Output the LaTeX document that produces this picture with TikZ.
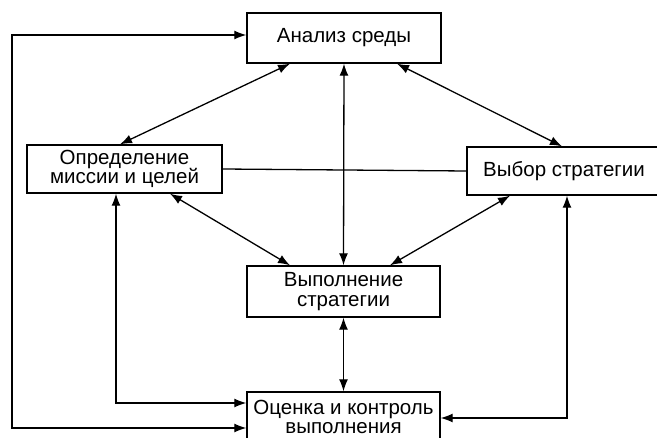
\documentclass[tikz,border=0pt]{standalone}
\usepackage{fontspec}
\setmainfont{Liberation Sans}
\usetikzlibrary{arrows.meta}
\begin{document}
\begin{tikzpicture}[x=1pt,y=-1pt,
  box/.style={draw,line width=1.4pt,inner sep=0pt,align=center,
    font=\fontsize{20.5}{19.5}\selectfont},
  conn/.style={line width=1.3pt,{Latex[length=12pt,width=9pt]}-{Latex[length=12pt,width=9pt]}},
  plain/.style={line width=1.3pt}]
\clip (0,0) rectangle (657,438);
\fill[white] (0,0) rectangle (657,438);
\node[box,minimum width=194pt,minimum height=50pt] (b1) at (344,38) {Анализ среды};
\node[box,minimum width=195pt,minimum height=48pt] (b2) at (124.5,169) {Определение\\миссии и целей};
\node[box,minimum width=194pt,minimum height=48pt] (b3) at (564,171) {Выбор стратегии};
\node[box,minimum width=193pt,minimum height=51pt] (b4) at (343.5,291.5) {Выполнение\\стратегии};
\node[box,minimum width=193pt,minimum height=50pt] (b5) at (343.5,417) {Оценка и контроль\\выполнения};
\coordinate (L) at (12,200);
\draw[conn] ([xshift=-54pt]b1.south) -- ([xshift=-4.5pt]b2.north);
\draw[conn] ([xshift=53pt]b1.south) -- ([xshift=-2pt]b3.north);
\draw[conn] (b1.south) -- (b4.north);
\draw[conn] ([xshift=45.5pt]b2.south) -- ([xshift=-53.5pt]b4.north);
\draw[conn] ([xshift=-54pt]b3.south) -- ([xshift=46.5pt]b4.north);
\draw[conn] (b4.south) -- (b5.north);
\draw[plain] (b2.east) -- (b3.west);
\draw[conn] ([yshift=3pt]b1.west) -| (L) |- ([yshift=-11pt]b5.west);
\draw[conn] ([xshift=-8.5pt]b2.south) |- ([yshift=14pt]b5.west);
\draw[conn] ([xshift=3pt]b3.south) |- ([yshift=-1pt]b5.east);
\end{tikzpicture}
\end{document}
